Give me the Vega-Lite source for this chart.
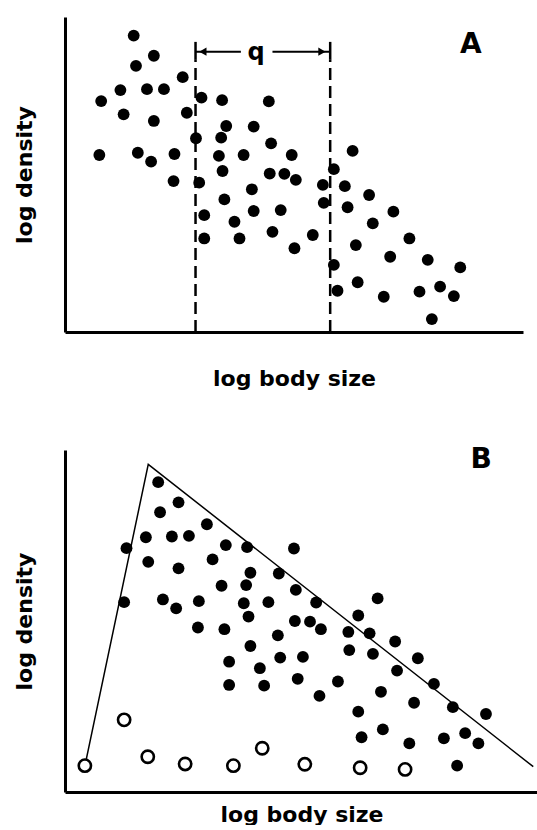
{
  "$schema": "https://vega.github.io/schema/vega-lite/v6.json",
  "background": "white",
  "padding": {"left": 13, "top": 17, "right": 0, "bottom": 0},
  "bounds": "flush",
  "spacing": 118,
  "config": {
    "view": {"stroke": null},
    "axis": {"domain": true, "domainColor": "black", "domainWidth": 3, "ticks": false, "labels": false, "grid": false, "titleFont": "DejaVu Sans", "titleFontSize": 22, "titleFontWeight": "bold", "titleColor": "black"}
  },
  "datasets": {
    "aPoints": [
      {"x":1.50,"y":9.41},{"x":1.94,"y":8.77},{"x":1.55,"y":8.45},{"x":2.57,"y":8.09},{"x":1.21,"y":7.68},
      {"x":1.79,"y":7.71},{"x":2.16,"y":7.71},{"x":0.79,"y":7.33},{"x":2.98,"y":7.44},{"x":3.43,"y":7.36},
      {"x":4.45,"y":7.32},{"x":1.28,"y":6.91},{"x":1.94,"y":6.70},{"x":2.66,"y":6.96},{"x":3.52,"y":6.54},
      {"x":4.12,"y":6.52},{"x":2.86,"y":6.15},{"x":3.41,"y":6.17},{"x":4.50,"y":5.99},{"x":0.75,"y":5.62},
      {"x":1.59,"y":5.69},{"x":1.88,"y":5.41},{"x":2.39,"y":5.65},{"x":3.36,"y":5.59},{"x":3.90,"y":5.62},
      {"x":4.95,"y":5.62},{"x":6.28,"y":5.75},{"x":3.44,"y":5.11},{"x":4.47,"y":5.03},{"x":4.79,"y":5.02},
      {"x":5.04,"y":4.83},{"x":5.87,"y":5.17},{"x":2.37,"y":4.79},{"x":2.93,"y":4.74},{"x":5.63,"y":4.67},
      {"x":6.11,"y":4.63},{"x":4.08,"y":4.53},{"x":6.64,"y":4.35},{"x":3.48,"y":4.21},{"x":5.65,"y":4.10},
      {"x":6.17,"y":3.96},{"x":4.12,"y":3.84},{"x":4.71,"y":3.87},{"x":7.17,"y":3.82},{"x":3.04,"y":3.71},
      {"x":6.72,"y":3.45},{"x":3.70,"y":3.50},{"x":4.53,"y":3.18},{"x":5.41,"y":3.08},{"x":3.04,"y":2.97},
      {"x":3.81,"y":2.97},{"x":7.52,"y":2.97},{"x":5.01,"y":2.66},{"x":6.35,"y":2.76},{"x":7.10,"y":2.39},
      {"x":5.87,"y":2.13},{"x":7.92,"y":2.29},{"x":8.63,"y":2.05},{"x":6.39,"y":1.58},{"x":8.19,"y":1.44},
      {"x":5.95,"y":1.31},{"x":7.74,"y":1.28},{"x":6.96,"y":1.12},{"x":8.49,"y":1.14},{"x":8.01,"y":0.41}
    ],
    "aDash": [{"x":2.85,"y":0,"y2":8.64},{"x":5.79,"y":0,"y2":8.64}],
    "aBar": [{"x":2.85,"y":8.64,"y2":9.21},{"x":5.79,"y":8.64,"y2":9.21}],
    "aArrow": [{"x":2.85,"x2":3.84,"y":8.90},{"x":4.53,"x2":5.79,"y":8.90}],
    "aHead": [{"x":3.01,"y":8.90,"dir":"left"},{"x":5.61,"y":8.90,"dir":"right"}],
    "aQ": [{"x":4.17,"y":8.86,"label":"q"}],
    "aLabel": [{"x":8.86,"y":9.11,"label":"A"}],
    "bFilled": [
      {"x":1.97,"y":9.06},{"x":2.40,"y":8.47},{"x":2.01,"y":8.18},{"x":3.00,"y":7.83},{"x":1.71,"y":7.45},
      {"x":2.26,"y":7.47},{"x":2.62,"y":7.49},{"x":1.30,"y":7.13},{"x":3.40,"y":7.22},{"x":3.85,"y":7.16},
      {"x":4.84,"y":7.12},{"x":1.76,"y":6.73},{"x":3.12,"y":6.80},{"x":2.40,"y":6.54},{"x":3.92,"y":6.41},
      {"x":4.52,"y":6.39},{"x":3.31,"y":6.03},{"x":3.83,"y":6.05},{"x":4.88,"y":5.91},{"x":1.25,"y":5.55},
      {"x":2.07,"y":5.63},{"x":2.35,"y":5.37},{"x":2.83,"y":5.58},{"x":3.78,"y":5.52},{"x":4.30,"y":5.55},
      {"x":5.31,"y":5.54},{"x":6.61,"y":5.66},{"x":3.88,"y":5.13},{"x":4.86,"y":5.00},{"x":5.18,"y":4.98},
      {"x":5.41,"y":4.76},{"x":6.20,"y":5.16},{"x":5.99,"y":4.68},{"x":6.44,"y":4.64},{"x":2.81,"y":4.81},
      {"x":3.37,"y":4.76},{"x":4.50,"y":4.58},{"x":6.98,"y":4.40},{"x":3.92,"y":4.27},{"x":6.01,"y":4.15},
      {"x":6.51,"y":4.04},{"x":7.46,"y":3.91},{"x":3.47,"y":3.81},{"x":4.12,"y":3.62},{"x":4.55,"y":3.93},
      {"x":5.03,"y":3.95},{"x":7.02,"y":3.55},{"x":4.92,"y":3.31},{"x":3.47,"y":3.13},{"x":4.21,"y":3.11},
      {"x":5.77,"y":3.23},{"x":7.80,"y":3.16},{"x":6.68,"y":2.93},{"x":5.38,"y":2.81},{"x":7.38,"y":2.61},
      {"x":8.20,"y":2.48},{"x":8.90,"y":2.28},{"x":6.20,"y":2.35},{"x":6.72,"y":1.83},{"x":8.46,"y":1.72},
      {"x":6.27,"y":1.60},{"x":8.01,"y":1.57},{"x":8.74,"y":1.42},{"x":7.28,"y":1.42},{"x":8.29,"y":0.77}
    ],
    "bOpen": [
      {"x":0.42,"y":0.77},{"x":1.25,"y":2.11},{"x":1.75,"y":1.03},{"x":2.54,"y":0.82},{"x":3.56,"y":0.77},
      {"x":4.17,"y":1.28},{"x":5.07,"y":0.81},{"x":6.24,"y":0.71},{"x":7.19,"y":0.66}
    ],
    "bTriangle": [
      {"x":0.42,"y":0.76,"order":1},{"x":1.76,"y":9.58,"order":2},{"x":9.90,"y":0.74,"order":3}
    ],
    "bLabel": [{"x":8.80,"y":9.71,"label":"B"}]
  },
  "vconcat": [
    {
      "width": 458,
      "height": 315,
      "layer": [
        {
          "data": {"name": "aDash"},
          "mark": {"type": "rule", "color": "black", "strokeWidth": 2.5, "strokeDash": [12, 6]},
          "encoding": {
            "x": {"field": "x", "type": "quantitative", "scale": {"domain": [0, 10], "nice": false, "zero": false}, "axis": {"title": "log body size", "titlePadding": 36}},
            "y": {"field": "y", "type": "quantitative", "scale": {"domain": [0, 10], "nice": false, "zero": false}, "axis": {"title": "log density", "titlePadding": 29}},
            "y2": {"field": "y2"}
          }
        },
        {
          "data": {"name": "aBar"},
          "mark": {"type": "rule", "color": "black", "strokeWidth": 2.5},
          "encoding": {
            "x": {"field": "x", "type": "quantitative"},
            "y": {"field": "y", "type": "quantitative"},
            "y2": {"field": "y2"}
          }
        },
        {
          "data": {"name": "aArrow"},
          "mark": {"type": "rule", "color": "black", "strokeWidth": 2},
          "encoding": {
            "x": {"field": "x", "type": "quantitative"},
            "x2": {"field": "x2"},
            "y": {"field": "y", "type": "quantitative"}
          }
        },
        {
          "data": {"name": "aHead"},
          "mark": {"type": "point", "filled": true, "color": "black", "size": 70, "opacity": 1},
          "encoding": {
            "x": {"field": "x", "type": "quantitative"},
            "y": {"field": "y", "type": "quantitative"},
            "shape": {"field": "dir", "type": "nominal", "scale": {"domain": ["left", "right"], "range": ["triangle-left", "triangle-right"]}, "legend": null}
          }
        },
        {
          "data": {"name": "aPoints"},
          "mark": {"type": "circle", "color": "black", "size": 140, "opacity": 1},
          "encoding": {
            "x": {"field": "x", "type": "quantitative"},
            "y": {"field": "y", "type": "quantitative"}
          }
        },
        {
          "data": {"name": "aQ"},
          "mark": {"type": "text", "font": "DejaVu Sans", "fontSize": 24, "fontWeight": "bold", "color": "black", "baseline": "middle", "align": "center"},
          "encoding": {
            "x": {"field": "x", "type": "quantitative"},
            "y": {"field": "y", "type": "quantitative"},
            "text": {"field": "label"}
          }
        },
        {
          "data": {"name": "aLabel"},
          "mark": {"type": "text", "font": "DejaVu Sans", "fontSize": 28, "fontWeight": "bold", "color": "black", "baseline": "middle", "align": "center"},
          "encoding": {
            "x": {"field": "x", "type": "quantitative"},
            "y": {"field": "y", "type": "quantitative"},
            "text": {"field": "label"}
          }
        }
      ]
    },
    {
      "width": 473,
      "height": 342,
      "layer": [
        {
          "data": {"name": "bTriangle"},
          "mark": {"type": "line", "color": "black", "strokeWidth": 1.5},
          "encoding": {
            "x": {"field": "x", "type": "quantitative", "scale": {"domain": [0, 10], "nice": false, "zero": false}, "axis": {"title": "log body size", "titlePadding": 12}},
            "y": {"field": "y", "type": "quantitative", "scale": {"domain": [0, 10], "nice": false, "zero": false}, "axis": {"title": "log density", "titlePadding": 29}},
            "order": {"field": "order", "type": "quantitative"}
          }
        },
        {
          "data": {"name": "bFilled"},
          "mark": {"type": "circle", "color": "black", "size": 140, "opacity": 1},
          "encoding": {
            "x": {"field": "x", "type": "quantitative"},
            "y": {"field": "y", "type": "quantitative"}
          }
        },
        {
          "data": {"name": "bOpen"},
          "mark": {"type": "point", "shape": "circle", "filled": false, "fill": "white", "stroke": "black", "strokeWidth": 2.6, "size": 150, "opacity": 1},
          "encoding": {
            "x": {"field": "x", "type": "quantitative"},
            "y": {"field": "y", "type": "quantitative"}
          }
        },
        {
          "data": {"name": "bLabel"},
          "mark": {"type": "text", "font": "DejaVu Sans", "fontSize": 28, "fontWeight": "bold", "color": "black", "baseline": "middle", "align": "center"},
          "encoding": {
            "x": {"field": "x", "type": "quantitative"},
            "y": {"field": "y", "type": "quantitative"},
            "text": {"field": "label"}
          }
        }
      ]
    }
  ]
}
